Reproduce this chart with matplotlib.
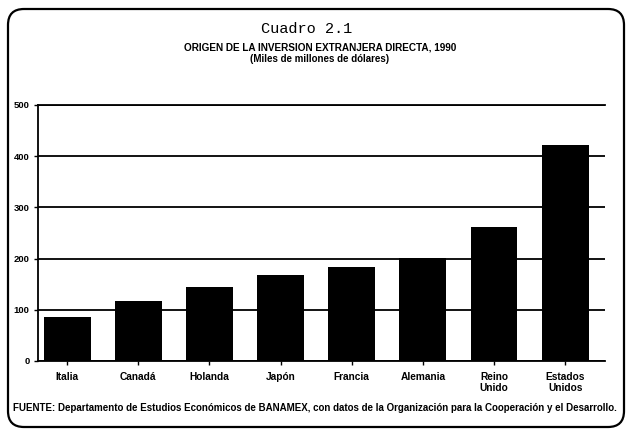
import numpy as np
import matplotlib
matplotlib.use("Agg")
import matplotlib.pyplot as plt
import matplotlib.patches as mpatches

# datos (miles de millones de dolares)
paises = ["Italia", "Canadá", "Holanda", "Japón", "Francia", "Alemania", "Reino\nUnido", "Estados\nUnidos"]
valores = [86, 117, 144, 168, 183, 202, 261, 421]
yticks = [0, 100, 200, 300, 400, 500]

plt.rcParams["font.family"] = ["Liberation Sans", "DejaVu Sans"]

fig = plt.figure(figsize=(6.26, 4.32), dpi=100)
ax = fig.add_axes([38/626, 1 - 361/432, (605 - 38)/626, (361 - 105)/432])

x = np.arange(len(paises))
ax.bar(x, valores, width=0.66, color="black", zorder=3)

ax.set_xlim(-0.41, 7.56)
ax.set_ylim(0, 500)
ax.set_yticks(yticks)
ax.set_yticklabels([str(v) for v in yticks], fontsize=6.8, fontweight="bold")
ax.set_xticks(x)
ax.set_xticklabels(paises, fontsize=7.3, fontweight="bold", linespacing=1.15)
ax.yaxis.grid(True, color="black", linewidth=1.3, zorder=1)
ax.tick_params(axis="both", length=3, width=1, color="black", pad=3)
ax.tick_params(axis="x", pad=5)

ax.spines["right"].set_visible(False)
for s in ("left", "bottom", "top"):
    ax.spines[s].set_linewidth(1.3)

fig.text(307/626, 1 - 29/432, "Cuadro 2.1", family="Liberation Mono", fontsize=11,
         ha="center", va="center")
fig.text(320/626, 1 - 48/432, "ORIGEN DE LA INVERSION EXTRANJERA DIRECTA, 1990",
         fontsize=7.2, fontweight="bold", ha="center", va="center")
fig.text(320/626, 1 - 59/432, "(Miles de millones de dólares)",
         fontsize=7, fontweight="bold", ha="center", va="center")
fig.text(13/626, 1 - 408/432,
         "FUENTE: Departamento de Estudios Económicos de BANAMEX, con datos de la Organización para la Cooperación y el Desarrollo.",
         fontsize=7, fontweight="bold", ha="left", va="center")

# marco redondeado
marco = mpatches.FancyBboxPatch((8, 5), 616, 418, boxstyle="round,pad=0,rounding_size=16",
                                transform=None, fill=False, linewidth=1.6, edgecolor="black")
fig.patches.append(marco)

fig.savefig("out.png", dpi=100)
